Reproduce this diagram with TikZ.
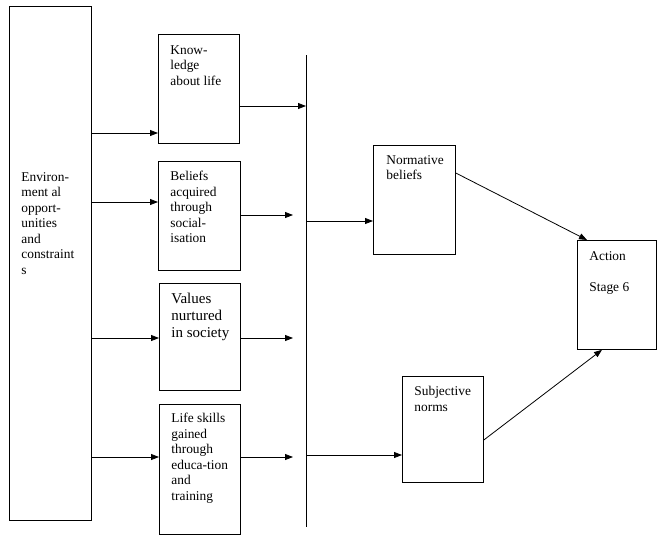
\documentclass[tikz,border=0pt]{standalone}
\usepackage{fontspec}
\setmainfont{Liberation Serif}
\usetikzlibrary{arrows.meta}
\begin{document}
\begin{tikzpicture}[x=1pt,y=-1pt,line width=0.8pt,
    box/.style={draw,anchor=north west,inner sep=0pt},
    txt/.style={anchor=north west,inner sep=0pt,align=left,font=\fontsize{13.4}{15.5}\selectfont},
    arr/.style={-{Triangle[length=8pt,width=6pt]}}]
    \useasboundingbox(0,0)rectangle(657,542);
    % boxes
    \node[box,minimum width=82pt,minimum height=514pt](env)at(9,6){};
    \node[box,minimum width=81pt,minimum height=109pt](kn)at(158,34){};
    \node[box,minimum width=82pt,minimum height=109pt](bel)at(158,161){};
    \node[box,minimum width=81pt,minimum height=107pt](val)at(159,283){};
    \node[box,minimum width=81pt,minimum height=130pt](life)at(159,404){};
    \node[box,minimum width=82pt,minimum height=109pt](norm)at(373,145){};
    \node[box,minimum width=81pt,minimum height=106pt](subj)at(402,376){};
    \node[box,minimum width=79pt,minimum height=109pt](act)at(577,240){};
    % texts
    \node[txt](envt)at(21,172){Environ-\\ment al\\opport-\\unities\\and\\constraint\\s};
    \node[txt](knt)at(170,45){Know-\\ledge\\about life};
    \node[txt](belt)at(170,171){Beliefs\\acquired\\through\\social-\\isation};
    \node[txt,font=\fontsize{15}{17}\selectfont](valt)at(171,293){Values\\nurtured\\in society};
    \node[txt](lifet)at(171,413){Life skills\\gained\\through\\educa-tion\\and\\training};
    \node[txt](normt)at(386,155){Normative\\beliefs};
    \node[txt](subjt)at(414,386){Subjective\\norms};
    \node[txt](actt)at(589,251){Action\\[15.5pt]Stage 6};
    % vertical line
    \coordinate(vt)at(306,55);\coordinate(vb)at(306,527);
    \draw(vt)--(vb);
    % arrows
    \foreach\b/\y in{kn/133,bel/202,val/338,life/457}{\draw[arr](env.east|-0,\y)--(\b.west|-0,\y);};
    \draw[arr](kn.east|-0,106)--(vt|-0,106);
    \foreach\b/\y in{bel/215,val/338,life/457}{\coordinate(e\b)at(293,\y);\draw[arr](\b.east|-0,\y)--(e\b);};
    \draw[arr](vt|-0,221)--(norm.west|-0,221);
    \draw[arr](vt|-0,455)--(subj.west|-0,455);
    \draw[arr](norm.east|-0,173)--([xshift=10pt]act.north west);
    \draw[arr](subj.east|-0,440)--([xshift=25pt]act.south west);
\end{tikzpicture}
\end{document}
